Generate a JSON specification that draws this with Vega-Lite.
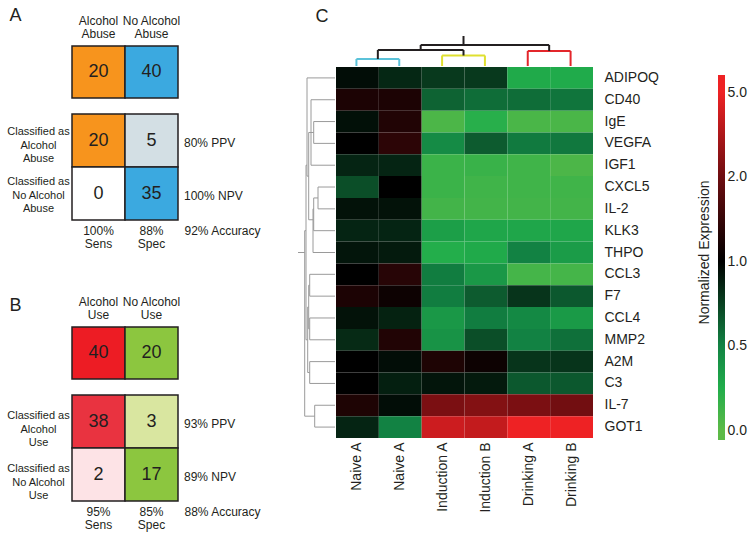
{
  "$schema": "https://vega.github.io/schema/vega-lite/v6.json",
  "padding": {"left": 6, "top": 6, "right": 5, "bottom": 5},
  "config": {
    "font": "Liberation Sans",
    "view": {"stroke": null},
    "axis": {"domain": false, "ticks": false, "grid": false, "labelColor": "#231f20", "titleColor": "#231f20"},
    "scale": {"bandPaddingInner": 0, "bandPaddingOuter": 0},
    "text": {"color": "#231f20"}
  },
  "spacing": 36,
  "align": "none",
  "resolve": {"scale": {"x": "independent", "y": "independent", "color": "independent"}},
  "hconcat": [
    {
      "spacing": 46,
      "resolve": {"scale": {"x": "independent", "y": "independent", "color": "independent"}},
      "vconcat": [
        {
          "spacing": 14,
          "resolve": {"scale": {"x": "independent", "y": "independent", "color": "independent"}},
          "vconcat": [
            {
              "width": 106, "height": 52,
              "data": {"values": [{"group": "Alcohol Abuse", "n": 20}, {"group": "No Alcohol Abuse", "n": 40}]},
              "encoding": {
                "x": {"field": "group", "type": "nominal", "scale": {"domain": ["Alcohol Abuse", "No Alcohol Abuse"]},
                  "axis": {"orient": "top", "labelAngle": 0, "labelExpr": "datum.value == 'Alcohol Abuse' ? ['Alcohol','Abuse'] : ['No Alcohol','Abuse']", "labelFontSize": 12, "labelLineHeight": 13, "labelPadding": 19,
                    "title": "A", "titleX": -63, "titleY": -31, "titleAlign": "left", "titleBaseline": "middle", "titleAngle": 0, "titleFontSize": 18, "titleFontWeight": "normal"}}
              },
              "layer": [
                {"mark": {"type": "rect", "stroke": "#231f20", "strokeWidth": 1.5},
                 "encoding": {"color": {"field": "group", "type": "nominal", "scale": {"domain": ["Alcohol Abuse", "No Alcohol Abuse"], "range": ["#f7941d", "#3ba9e0"]}, "legend": null}}},
                {"mark": {"type": "text", "fontSize": 18}, "encoding": {"text": {"field": "n", "type": "quantitative"}}}
              ]
            },
            {
              "width": 159, "height": 106,
              "layer": [
                {
                  "data": {"values": [
                    {"actual": "Alcohol Abuse", "predicted": "Alcohol Abuse", "n": 20, "cell": "TP"},
                    {"actual": "No Alcohol Abuse", "predicted": "Alcohol Abuse", "n": 5, "cell": "FP"},
                    {"actual": "Alcohol Abuse", "predicted": "No Alcohol Abuse", "n": 0, "cell": "FN"},
                    {"actual": "No Alcohol Abuse", "predicted": "No Alcohol Abuse", "n": 35, "cell": "TN"}
                  ]},
                  "encoding": {
                    "x": {"field": "actual", "type": "nominal", "scale": {"domain": ["Alcohol Abuse", "No Alcohol Abuse", "Summary"]},
                      "axis": {"orient": "bottom", "title": null, "labelAngle": 0, "labelBaseline": "top", "labelFontSize": 12, "labelLineHeight": 13, "labelPadding": 5,
                        "labelExpr": "datum.value == 'Alcohol Abuse' ? ['100%','Sens'] : (datum.value == 'No Alcohol Abuse' ? ['88%','Spec'] : '92% Accuracy')",
                        "labelAlign": {"condition": {"test": "datum.value == 'Summary'", "value": "left"}, "value": "center"},
                        "labelOffset": {"condition": {"test": "datum.value == 'Summary'", "value": -20}, "value": 0}}},
                    "y": {"field": "predicted", "type": "nominal", "scale": {"domain": ["Alcohol Abuse", "No Alcohol Abuse"]},
                      "axis": {"orient": "left", "title": null, "labelAlign": "center", "labelBaseline": "middle", "labelPadding": 34, "labelFontSize": 11, "labelLineHeight": 13.5,
                        "labelOffset": {"condition": {"test": "datum.value == 'Alcohol Abuse'", "value": -8.5}, "value": -11.5},
                        "labelExpr": "datum.value == 'Alcohol Abuse' ? ['Classified as','Alcohol','Abuse'] : ['Classified as','No Alcohol','Abuse']"}}
                  },
                  "layer": [
                    {"mark": {"type": "rect", "stroke": "#231f20", "strokeWidth": 1.5},
                     "encoding": {"color": {"field": "cell", "type": "nominal", "scale": {"domain": ["TP", "FP", "FN", "TN"], "range": ["#f7941d", "#d3dfe4", "#ffffff", "#3ba9e0"]}, "legend": null}}},
                    {"mark": {"type": "text", "fontSize": 18}, "encoding": {"text": {"field": "n", "type": "quantitative"}}}
                  ]
                },
                {
                  "data": {"values": [
                    {"column": "Summary", "predicted": "Alcohol Abuse", "metric": "80% PPV"},
                    {"column": "Summary", "predicted": "No Alcohol Abuse", "metric": "100% NPV"}
                  ]},
                  "mark": {"type": "text", "align": "left", "dx": 6, "dy": 2, "fontSize": 12},
                  "encoding": {
                    "x": {"field": "column", "type": "nominal", "bandPosition": 0},
                    "y": {"field": "predicted", "type": "nominal"},
                    "text": {"field": "metric"}
                  }
                }
              ]
            }
          ]
        },
        {
          "spacing": 14,
          "resolve": {"scale": {"x": "independent", "y": "independent", "color": "independent"}},
          "vconcat": [
            {
              "width": 106, "height": 52,
              "data": {"values": [{"group": "Alcohol Use", "n": 40}, {"group": "No Alcohol Use", "n": 20}]},
              "encoding": {
                "x": {"field": "group", "type": "nominal", "scale": {"domain": ["Alcohol Use", "No Alcohol Use"]},
                  "axis": {"orient": "top", "labelAngle": 0, "labelExpr": "datum.value == 'Alcohol Use' ? ['Alcohol','Use'] : ['No Alcohol','Use']", "labelFontSize": 12, "labelLineHeight": 13, "labelPadding": 19,
                    "title": "B", "titleX": -63, "titleY": -22, "titleAlign": "left", "titleBaseline": "middle", "titleAngle": 0, "titleFontSize": 18, "titleFontWeight": "normal"}}
              },
              "layer": [
                {"mark": {"type": "rect", "stroke": "#231f20", "strokeWidth": 1.5},
                 "encoding": {"color": {"field": "group", "type": "nominal", "scale": {"domain": ["Alcohol Use", "No Alcohol Use"], "range": ["#ed1c24", "#8cc63f"]}, "legend": null}}},
                {"mark": {"type": "text", "fontSize": 18}, "encoding": {"text": {"field": "n", "type": "quantitative"}}}
              ]
            },
            {
              "width": 159, "height": 106,
              "layer": [
                {
                  "data": {"values": [
                    {"actual": "Alcohol Use", "predicted": "Alcohol Use", "n": 38, "cell": "TP"},
                    {"actual": "No Alcohol Use", "predicted": "Alcohol Use", "n": 3, "cell": "FP"},
                    {"actual": "Alcohol Use", "predicted": "No Alcohol Use", "n": 2, "cell": "FN"},
                    {"actual": "No Alcohol Use", "predicted": "No Alcohol Use", "n": 17, "cell": "TN"}
                  ]},
                  "encoding": {
                    "x": {"field": "actual", "type": "nominal", "scale": {"domain": ["Alcohol Use", "No Alcohol Use", "Summary"]},
                      "axis": {"orient": "bottom", "title": null, "labelAngle": 0, "labelBaseline": "top", "labelFontSize": 12, "labelLineHeight": 13, "labelPadding": 5,
                        "labelExpr": "datum.value == 'Alcohol Use' ? ['95%','Sens'] : (datum.value == 'No Alcohol Use' ? ['85%','Spec'] : '88% Accuracy')",
                        "labelAlign": {"condition": {"test": "datum.value == 'Summary'", "value": "left"}, "value": "center"},
                        "labelOffset": {"condition": {"test": "datum.value == 'Summary'", "value": -20}, "value": 0}}},
                    "y": {"field": "predicted", "type": "nominal", "scale": {"domain": ["Alcohol Use", "No Alcohol Use"]},
                      "axis": {"orient": "left", "title": null, "labelAlign": "center", "labelBaseline": "middle", "labelPadding": 34, "labelFontSize": 11, "labelLineHeight": 13.5,
                        "labelOffset": -5.5,
                        "labelExpr": "datum.value == 'Alcohol Use' ? ['Classified as','Alcohol','Use'] : ['Classified as','No Alcohol','Use']"}}
                  },
                  "layer": [
                    {"mark": {"type": "rect", "stroke": "#231f20", "strokeWidth": 1.5},
                     "encoding": {"color": {"field": "cell", "type": "nominal", "scale": {"domain": ["TP", "FP", "FN", "TN"], "range": ["#e93340", "#d9e6a0", "#fde3e6", "#8cc63f"]}, "legend": null}}},
                    {"mark": {"type": "text", "fontSize": 18}, "encoding": {"text": {"field": "n", "type": "quantitative"}}}
                  ]
                },
                {
                  "data": {"values": [
                    {"column": "Summary", "predicted": "Alcohol Use", "metric": "93% PPV"},
                    {"column": "Summary", "predicted": "No Alcohol Use", "metric": "89% NPV"}
                  ]},
                  "mark": {"type": "text", "align": "left", "dx": 6, "dy": 2, "fontSize": 12},
                  "encoding": {
                    "x": {"field": "column", "type": "nominal", "bandPosition": 0},
                    "y": {"field": "predicted", "type": "nominal"},
                    "text": {"field": "metric"}
                  }
                }
              ]
            }
          ]
        }
      ]
    },
    {
      "spacing": 0,
      "resolve": {"scale": {"x": "independent", "y": "independent", "color": "independent"}},
      "vconcat": [
        {
          "width": 294, "height": 20,
          "data": {"values": [
            {"x": 0.5, "x2": 0.5, "y": 0, "y2": 7, "cluster": "Naive"},
            {"x": 1.5, "x2": 1.5, "y": 0, "y2": 7, "cluster": "Naive"},
            {"x": 0.5, "x2": 1.5, "y": 7, "y2": 7, "cluster": "Naive"},
            {"x": 2.5, "x2": 2.5, "y": 0, "y2": 10.5, "cluster": "Induction"},
            {"x": 3.5, "x2": 3.5, "y": 0, "y2": 10.5, "cluster": "Induction"},
            {"x": 2.5, "x2": 3.5, "y": 10.5, "y2": 10.5, "cluster": "Induction"},
            {"x": 4.5, "x2": 4.5, "y": 0, "y2": 15, "cluster": "Drinking"},
            {"x": 5.5, "x2": 5.5, "y": 0, "y2": 15, "cluster": "Drinking"},
            {"x": 4.5, "x2": 5.5, "y": 15, "y2": 15, "cluster": "Drinking"},
            {"x": 1, "x2": 1, "y": 7, "y2": 16, "cluster": "Merge"},
            {"x": 3, "x2": 3, "y": 10.5, "y2": 16, "cluster": "Merge"},
            {"x": 1, "x2": 3, "y": 16, "y2": 16, "cluster": "Merge"},
            {"x": 2, "x2": 2, "y": 16, "y2": 21, "cluster": "Merge"},
            {"x": 5, "x2": 5, "y": 15, "y2": 21, "cluster": "Merge"},
            {"x": 2, "x2": 5, "y": 21, "y2": 21, "cluster": "Merge"},
            {"x": 3, "x2": 3, "y": 21, "y2": 30, "cluster": "Merge"}
          ]},
          "mark": {"type": "rule", "strokeWidth": 2},
          "encoding": {
            "x": {"field": "x", "type": "quantitative", "scale": {"domain": [-0.864, 6], "nice": false, "zero": false},
              "axis": {"orient": "top", "labels": false, "ticks": false, "domain": false, "grid": false,
                "title": "C", "titleX": 17, "titleY": -30, "titleAlign": "left", "titleBaseline": "middle", "titleAngle": 0, "titleFontSize": 18, "titleFontWeight": "normal"}},
            "x2": {"field": "x2"},
            "y": {"field": "y", "type": "quantitative", "scale": {"domain": [0, 20], "nice": false, "zero": false}, "axis": null},
            "y2": {"field": "y2"},
            "color": {"field": "cluster", "type": "nominal", "scale": {"domain": ["Naive", "Induction", "Drinking", "Merge"], "range": ["#5bc2d9", "#dfe030", "#e3262b", "#231f20"]}, "legend": null}
          }
        },
        {
          "spacing": 38,
          "resolve": {"scale": {"x": "independent", "y": "independent", "color": "independent"}},
          "hconcat": [
            {
              "spacing": 0,
              "resolve": {"scale": {"x": "independent", "y": "independent", "color": "independent"}},
              "hconcat": [
                {
                  "width": 37, "height": 371,
                  "data": {"values": [
                    {"d": 0, "d2": 28, "r": 0.5, "r2": 0.5},
                    {"d": 0, "d2": 24, "r": 1.5, "r2": 1.5},
                    {"d": 0, "d2": 21.3, "r": 2.5, "r2": 2.5},
                    {"d": 0, "d2": 21.3, "r": 3.5, "r2": 3.5},
                    {"d": 0, "d2": 24, "r": 4.5, "r2": 4.5},
                    {"d": 0, "d2": 17, "r": 5.5, "r2": 5.5},
                    {"d": 0, "d2": 17, "r": 6.5, "r2": 6.5},
                    {"d": 0, "d2": 21.3, "r": 7.5, "r2": 7.5},
                    {"d": 0, "d2": 22, "r": 8.5, "r2": 8.5},
                    {"d": 0, "d2": 25.3, "r": 9.5, "r2": 9.5},
                    {"d": 0, "d2": 25.3, "r": 10.5, "r2": 10.5},
                    {"d": 0, "d2": 25.3, "r": 11.5, "r2": 11.5},
                    {"d": 0, "d2": 25.3, "r": 12.5, "r2": 12.5},
                    {"d": 0, "d2": 25.3, "r": 13.5, "r2": 13.5},
                    {"d": 0, "d2": 25.3, "r": 14.5, "r2": 14.5},
                    {"d": 0, "d2": 20.3, "r": 15.5, "r2": 15.5},
                    {"d": 0, "d2": 20.3, "r": 16.5, "r2": 16.5},
                    {"d": 21.3, "d2": 21.3, "r": 2.5, "r2": 3.5},
                    {"d": 21.3, "d2": 24, "r": 3.0, "r2": 3.0},
                    {"d": 24, "d2": 24, "r": 1.5, "r2": 4.5},
                    {"d": 17, "d2": 17, "r": 5.5, "r2": 6.5},
                    {"d": 17, "d2": 21.3, "r": 6.0, "r2": 6.0},
                    {"d": 21.3, "d2": 21.3, "r": 6.0, "r2": 7.5},
                    {"d": 21.3, "d2": 22, "r": 6.5, "r2": 6.5},
                    {"d": 22, "d2": 22, "r": 6.5, "r2": 8.5},
                    {"d": 24, "d2": 26.3, "r": 3.0, "r2": 3.0},
                    {"d": 22, "d2": 26.3, "r": 7.0, "r2": 7.0},
                    {"d": 26.3, "d2": 26.3, "r": 3.0, "r2": 7.0},
                    {"d": 26.3, "d2": 28, "r": 5.0, "r2": 5.0},
                    {"d": 28, "d2": 28, "r": 0.5, "r2": 5.0},
                    {"d": 25.3, "d2": 25.3, "r": 9.5, "r2": 10.5},
                    {"d": 25.3, "d2": 25.3, "r": 11.5, "r2": 12.5},
                    {"d": 25.3, "d2": 25.3, "r": 13.5, "r2": 14.5},
                    {"d": 20.3, "d2": 20.3, "r": 15.5, "r2": 16.5},
                    {"d": 25.3, "d2": 26.3, "r": 10, "r2": 10},
                    {"d": 25.3, "d2": 26.3, "r": 12, "r2": 12},
                    {"d": 26.3, "d2": 26.3, "r": 10, "r2": 12},
                    {"d": 26.3, "d2": 27.3, "r": 11, "r2": 11},
                    {"d": 25.3, "d2": 27.3, "r": 14, "r2": 14},
                    {"d": 27.3, "d2": 27.3, "r": 11, "r2": 14},
                    {"d": 28, "d2": 29, "r": 4.5, "r2": 4.5},
                    {"d": 27.3, "d2": 29, "r": 12.5, "r2": 12.5},
                    {"d": 29, "d2": 29, "r": 4.5, "r2": 12.5},
                    {"d": 29, "d2": 30.3, "r": 7.5, "r2": 7.5},
                    {"d": 20.3, "d2": 30.3, "r": 16, "r2": 16},
                    {"d": 30.3, "d2": 30.3, "r": 7.5, "r2": 16},
                    {"d": 30.3, "d2": 37, "r": 8.5, "r2": 8.5}
                  ]},
                  "mark": {"type": "rule", "color": "#9a9a9a", "strokeWidth": 1},
                  "encoding": {
                    "x": {"field": "d", "type": "quantitative", "scale": {"domain": [0, 37], "reverse": true, "nice": false, "zero": false}, "axis": null},
                    "x2": {"field": "d2"},
                    "y": {"field": "r", "type": "quantitative", "scale": {"domain": [0, 17], "reverse": true, "nice": false, "zero": false}, "axis": null},
                    "y2": {"field": "r2"}
                  }
                },
                {
                  "width": 257, "height": 371,
                  "data": {"values": [
                    {"gene": "ADIPOQ", "sample": "S1", "value": 0.95}, {"gene": "ADIPOQ", "sample": "S2", "value": 0.85}, {"gene": "ADIPOQ", "sample": "S3", "value": 0.78}, {"gene": "ADIPOQ", "sample": "S4", "value": 0.78}, {"gene": "ADIPOQ", "sample": "S5", "value": 0.27}, {"gene": "ADIPOQ", "sample": "S6", "value": 0.26},
                    {"gene": "CD40", "sample": "S1", "value": 1.25}, {"gene": "CD40", "sample": "S2", "value": 1.25}, {"gene": "CD40", "sample": "S3", "value": 0.62}, {"gene": "CD40", "sample": "S4", "value": 0.58}, {"gene": "CD40", "sample": "S5", "value": 0.58}, {"gene": "CD40", "sample": "S6", "value": 0.55},
                    {"gene": "IgE", "sample": "S1", "value": 0.94}, {"gene": "IgE", "sample": "S2", "value": 1.3}, {"gene": "IgE", "sample": "S3", "value": 0.07}, {"gene": "IgE", "sample": "S4", "value": 0.22}, {"gene": "IgE", "sample": "S5", "value": 0.08}, {"gene": "IgE", "sample": "S6", "value": 0.08},
                    {"gene": "VEGFA", "sample": "S1", "value": 1.0}, {"gene": "VEGFA", "sample": "S2", "value": 1.4}, {"gene": "VEGFA", "sample": "S3", "value": 0.45}, {"gene": "VEGFA", "sample": "S4", "value": 0.65}, {"gene": "VEGFA", "sample": "S5", "value": 0.53}, {"gene": "VEGFA", "sample": "S6", "value": 0.54},
                    {"gene": "IGF1", "sample": "S1", "value": 0.86}, {"gene": "IGF1", "sample": "S2", "value": 0.86}, {"gene": "IGF1", "sample": "S3", "value": 0.14}, {"gene": "IGF1", "sample": "S4", "value": 0.15}, {"gene": "IGF1", "sample": "S5", "value": 0.12}, {"gene": "IGF1", "sample": "S6", "value": 0.07},
                    {"gene": "CXCL5", "sample": "S1", "value": 0.7}, {"gene": "CXCL5", "sample": "S2", "value": 1.0}, {"gene": "CXCL5", "sample": "S3", "value": 0.14}, {"gene": "CXCL5", "sample": "S4", "value": 0.12}, {"gene": "CXCL5", "sample": "S5", "value": 0.12}, {"gene": "CXCL5", "sample": "S6", "value": 0.12},
                    {"gene": "IL-2", "sample": "S1", "value": 0.93}, {"gene": "IL-2", "sample": "S2", "value": 0.93}, {"gene": "IL-2", "sample": "S3", "value": 0.11}, {"gene": "IL-2", "sample": "S4", "value": 0.11}, {"gene": "IL-2", "sample": "S5", "value": 0.11}, {"gene": "IL-2", "sample": "S6", "value": 0.11},
                    {"gene": "KLK3", "sample": "S1", "value": 0.86}, {"gene": "KLK3", "sample": "S2", "value": 0.86}, {"gene": "KLK3", "sample": "S3", "value": 0.33}, {"gene": "KLK3", "sample": "S4", "value": 0.29}, {"gene": "KLK3", "sample": "S5", "value": 0.29}, {"gene": "KLK3", "sample": "S6", "value": 0.29},
                    {"gene": "THPO", "sample": "S1", "value": 0.92}, {"gene": "THPO", "sample": "S2", "value": 0.9}, {"gene": "THPO", "sample": "S3", "value": 0.24}, {"gene": "THPO", "sample": "S4", "value": 0.27}, {"gene": "THPO", "sample": "S5", "value": 0.5}, {"gene": "THPO", "sample": "S6", "value": 0.35},
                    {"gene": "CCL3", "sample": "S1", "value": 1.0}, {"gene": "CCL3", "sample": "S2", "value": 1.35}, {"gene": "CCL3", "sample": "S3", "value": 0.52}, {"gene": "CCL3", "sample": "S4", "value": 0.37}, {"gene": "CCL3", "sample": "S5", "value": 0.1}, {"gene": "CCL3", "sample": "S6", "value": 0.1},
                    {"gene": "F7", "sample": "S1", "value": 1.25}, {"gene": "F7", "sample": "S2", "value": 1.12}, {"gene": "F7", "sample": "S3", "value": 0.52}, {"gene": "F7", "sample": "S4", "value": 0.65}, {"gene": "F7", "sample": "S5", "value": 0.8}, {"gene": "F7", "sample": "S6", "value": 0.66},
                    {"gene": "CCL4", "sample": "S1", "value": 0.93}, {"gene": "CCL4", "sample": "S2", "value": 0.87}, {"gene": "CCL4", "sample": "S3", "value": 0.37}, {"gene": "CCL4", "sample": "S4", "value": 0.52}, {"gene": "CCL4", "sample": "S5", "value": 0.46}, {"gene": "CCL4", "sample": "S6", "value": 0.36},
                    {"gene": "MMP2", "sample": "S1", "value": 0.84}, {"gene": "MMP2", "sample": "S2", "value": 1.3}, {"gene": "MMP2", "sample": "S3", "value": 0.4}, {"gene": "MMP2", "sample": "S4", "value": 0.7}, {"gene": "MMP2", "sample": "S5", "value": 0.5}, {"gene": "MMP2", "sample": "S6", "value": 0.57},
                    {"gene": "A2M", "sample": "S1", "value": 1.0}, {"gene": "A2M", "sample": "S2", "value": 0.95}, {"gene": "A2M", "sample": "S3", "value": 1.27}, {"gene": "A2M", "sample": "S4", "value": 1.12}, {"gene": "A2M", "sample": "S5", "value": 0.8}, {"gene": "A2M", "sample": "S6", "value": 0.8},
                    {"gene": "C3", "sample": "S1", "value": 1.0}, {"gene": "C3", "sample": "S2", "value": 0.88}, {"gene": "C3", "sample": "S3", "value": 0.92}, {"gene": "C3", "sample": "S4", "value": 0.9}, {"gene": "C3", "sample": "S5", "value": 0.66}, {"gene": "C3", "sample": "S6", "value": 0.66},
                    {"gene": "IL-7", "sample": "S1", "value": 1.27}, {"gene": "IL-7", "sample": "S2", "value": 0.95}, {"gene": "IL-7", "sample": "S3", "value": 2.3}, {"gene": "IL-7", "sample": "S4", "value": 2.5}, {"gene": "IL-7", "sample": "S5", "value": 2.3}, {"gene": "IL-7", "sample": "S6", "value": 2.1},
                    {"gene": "GOT1", "sample": "S1", "value": 0.86}, {"gene": "GOT1", "sample": "S2", "value": 0.5}, {"gene": "GOT1", "sample": "S3", "value": 4.2}, {"gene": "GOT1", "sample": "S4", "value": 4.0}, {"gene": "GOT1", "sample": "S5", "value": 5.0}, {"gene": "GOT1", "sample": "S6", "value": 5.0}
                  ]},
                  "mark": {"type": "rect"},
                  "encoding": {
                    "x": {"field": "sample", "type": "nominal", "scale": {"domain": ["S1", "S2", "S3", "S4", "S5", "S6"]},
                      "axis": {"orient": "bottom", "title": null, "labelAngle": -90, "labelFontSize": 14, "labelPadding": 4,
                        "labelExpr": "datum.value == 'S1' || datum.value == 'S2' ? 'Naive A' : (datum.value == 'S3' ? 'Induction A' : (datum.value == 'S4' ? 'Induction B' : (datum.value == 'S5' ? 'Drinking A' : 'Drinking B')))"}},
                    "y": {"field": "gene", "type": "nominal", "scale": {"domain": ["ADIPOQ", "CD40", "IgE", "VEGFA", "IGF1", "CXCL5", "IL-2", "KLK3", "THPO", "CCL3", "F7", "CCL4", "MMP2", "A2M", "C3", "IL-7", "GOT1"]},
                      "axis": {"orient": "right", "title": null, "labelFontSize": 14, "labelPadding": 11}},
                    "color": {"field": "value", "type": "quantitative",
                      "scale": {"type": "linear", "domain": [0, 0.25, 0.5, 1, 2, 5], "range": ["#5dba47", "#21ad4b", "#128243", "#000000", "#6e0d10", "#ee2224"], "interpolate": "rgb"},
                      "legend": null}
                  }
                }
              ]
            },
            {
              "width": 7, "height": 371,
              "title": {"text": "Normalized Expression", "orient": "left", "anchor": "middle", "fontSize": 14, "fontWeight": "normal", "color": "#231f20", "offset": 6},
              "data": {"values": [{"bar": "Normalized Expression"}]},
              "mark": {"type": "rect", "yOffset": -17, "y2Offset": 10,
                "fill": {"gradient": "linear", "x1": 0, "y1": 1, "x2": 0, "y2": 0, "stops": [
                  {"offset": 0, "color": "#5dba47"},
                  {"offset": 0.027, "color": "#5dba47"},
                  {"offset": 0.143, "color": "#21ad4b"},
                  {"offset": 0.259, "color": "#128243"},
                  {"offset": 0.49, "color": "#000000"},
                  {"offset": 0.722, "color": "#6e0d10"},
                  {"offset": 0.953, "color": "#ee2224"},
                  {"offset": 1, "color": "#ee2224"}
                ]}},
              "encoding": {
                "y": {"datum": "5.0", "type": "ordinal", "scale": {"type": "point", "domain": ["5.0", "2.0", "1.0", "0.5", "0.0"], "padding": 0.195, "align": 0.76},
                  "axis": {"orient": "right", "title": null, "labelFontSize": 14, "labelPadding": 2, "labelBaseline": "middle"}},
                "y2": {"datum": "0.0"}
              }
            }
          ]
        }
      ]
    }
  ]
}
